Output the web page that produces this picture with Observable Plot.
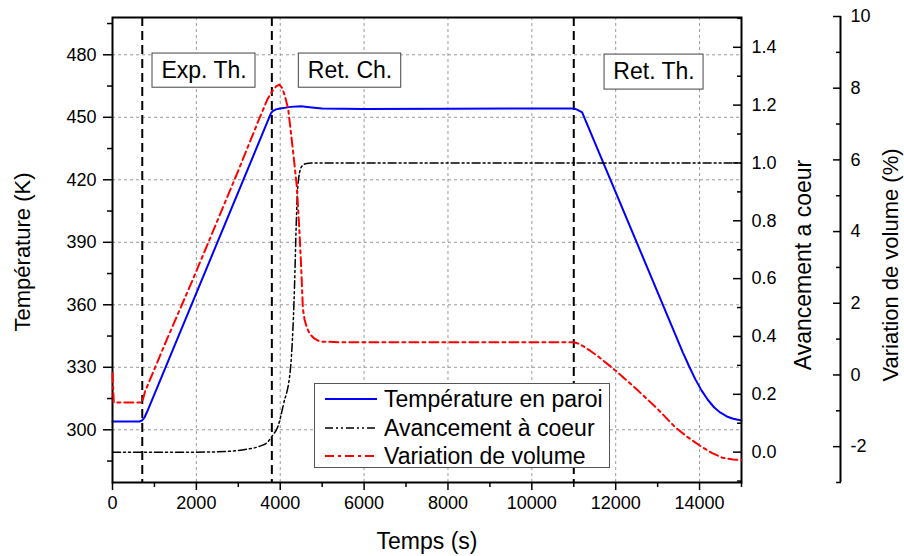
<!DOCTYPE html>
<html><head><meta charset="utf-8">
<script src="https://cdn.jsdelivr.net/npm/d3@7"></script>
<script src="https://cdn.jsdelivr.net/npm/@observablehq/plot@0.6"></script>
<style>
body{margin:0;background:#fff;font-family:"Liberation Sans",Arial,sans-serif;}
#chart{position:relative;width:904px;height:556px;}
#chart svg{position:absolute;left:0;top:0;}
#legend{position:absolute;left:314px;top:383px;width:296px;height:85px;border:1px solid #555;background:#fff;box-sizing:border-box;font-size:23px;color:#000;}
#legend .row{position:absolute;left:0;height:28px;display:flex;align-items:center;white-space:nowrap;}
#legend svg{position:static;margin-left:10px;margin-right:7px;}
</style></head><body><div id="chart"><div id="legend"></div></div>
<script>
// ---- data ----
const tempTime = [0, 640, 700, 760, 820, 3780, 3820, 3900, 4000, 4250, 4500, 4750, 5000, 6000, 8000, 10000, 11000, 11080, 11200, 13600, 13750, 13900, 14050, 14200, 14350, 14500, 14650, 14800, 15000];
const tempValue = [304, 304, 304.4, 305.8, 308.4, 452.0, 453.0, 453.8, 454.2, 455, 455.3, 454.7, 454.2, 454.0, 454.1, 454.2, 454.2, 453.7, 452.4, 337.2, 330.5, 324.2, 318.8, 314.3, 310.7, 308.2, 306.4, 305.3, 304.5];

const avTime = [0, 2000, 2800, 3200, 3500, 3700, 3820, 3940, 4080, 4240, 4340, 4380, 4420, 4500, 4600, 4750, 5000, 15000];
const avValue = [0, 0, 0.003, 0.01, 0.02, 0.035, 0.058, 0.087, 0.167, 0.283, 0.57, 0.78, 0.92, 0.985, 0.997, 1.0, 1.0, 1.0];

const volTime = [0, 30, 690, 720, 780, 1300, 1900, 2500, 3000, 3500, 3700, 3800, 3900, 3980, 4050, 4120, 4190, 4300, 4395, 4460, 4500, 4540, 4580, 4620, 4700, 4800, 4900, 5000, 5500, 8000, 10000, 11000, 11100, 11200, 11400, 11600, 12000, 12500, 13000, 13430, 13700, 14030, 14300, 14545, 14800, 15000];
const volValue = [0.05, -0.77, -0.77, -0.7, -0.45, 1.0, 2.62, 4.3, 5.7, 7.15, 7.7, 7.9, 8.05, 8.1, 8.0, 7.75, 7.42, 6.3, 5.27, 3.96, 3.0, 1.85, 1.55, 1.38, 1.15, 1.03, 0.96, 0.93, 0.91, 0.91, 0.91, 0.91, 0.88, 0.82, 0.67, 0.5, 0.12, -0.4, -0.95, -1.47, -1.72, -1.99, -2.18, -2.31, -2.36, -2.37];

const phaseTimes = [710, 3800, 11000];
const phaseLabels = ["Exp. Th.", "Ret. Ch.", "Ret. Th."];
const phaseBoxT1 = [954, 4443, 11734];
const phaseBoxT2 = [3410, 6885, 14095];
const phaseBoxLow = [464.2, 464.2, 463.3];
const phaseBoxHigh = [480.6, 480.6, 480.1];

const xMajor = [0, 2000, 4000, 6000, 8000, 10000, 12000, 14000];
const xMinor = [1000, 3000, 5000, 7000, 9000, 11000, 13000, 15000];
const tempMajor = [300, 330, 360, 390, 420, 450, 480];
const tempMinor = [285, 315, 345, 375, 405, 435, 465, 495];
const avMajor = [0, 0.2, 0.4, 0.6, 0.8, 1.0, 1.2, 1.4];
const avMinor = [-0.1, 0.1, 0.3, 0.5, 0.7, 0.9, 1.1, 1.3, 1.5];
const volMajor = [-2, 0, 2, 4, 6, 8, 10];
const volMinor = [-3, -1, 1, 3, 5, 7, 9];

const seriesNames = ["Température en paroi", "Avancement à coeur", "Variation de volume"];
const seriesColors = ["#0000ff", "#000000", "#ff0000"];
const seriesDash = [null, "8,3,2,3,2,3", "9,4,3,4"];
const seriesWidth = [2, 1.5, 2];

const xTitle = "Temps (s)";
const yTitleLeft = "Température (K)";
const yTitleRight1 = "Avancement a coeur";
const yTitleRight2 = "Variation de volume (%)";

// ---- tables ----
const tempData = tempTime.map((t, i) => ({t, v: tempValue[i]}));
const avData = avTime.map((t, i) => ({t, v: avValue[i]}));
const volData = volTime.map((t, i) => ({t, v: volValue[i]}));
const boxes = phaseLabels.map((label, i) => ({label, t1: phaseBoxT1[i], t2: phaseBoxT2[i], y1: phaseBoxLow[i], y2: phaseBoxHigh[i]}));

const FONT = '"Liberation Sans", Arial, sans-serif';
const common = {
  width: 904, height: 556,
  marginLeft: 112, marginRight: 163, marginTop: 17, marginBottom: 74,
  style: {background: "transparent", color: "black", fontFamily: FONT, overflow: "visible"}
};
const chart = document.getElementById("chart");
const legendEl = document.getElementById("legend");
const titleOpts = {text: d => d, textAnchor: "middle", lineAnchor: "middle", fill: "black"};

// main plot: temperature
const p1 = Plot.plot({
  ...common,
  x: {domain: [0, 15000]},
  y: {domain: [274.7, 497.9]},
  marks: [
    Plot.gridX(xMajor.filter(d => d > 0), {stroke: "#9a9a9a", strokeOpacity: 1, strokeDasharray: "3,3"}),
    Plot.gridY(tempMajor, {stroke: "#9a9a9a", strokeOpacity: 1, strokeDasharray: "3,3"}),
    Plot.ruleX(phaseTimes, {stroke: "black", strokeWidth: 2, strokeDasharray: "9,5"}),
    Plot.rect(boxes, {x1: "t1", x2: "t2", y1: "y1", y2: "y2", fill: "white", stroke: "#444", strokeWidth: 1}),
    Plot.text(boxes, {x: d => (d.t1 + d.t2) / 2, y: d => (d.y1 + d.y2) / 2, text: "label", fontSize: 23, fill: "black"}),
    Plot.line(tempData, {x: "t", y: "v", stroke: seriesColors[0], strokeWidth: seriesWidth[0]}),
    Plot.frame({stroke: "black", strokeWidth: 2}),
    Plot.axisY(tempMajor, {tickSize: 9, tickPadding: 7, fontSize: 18, strokeWidth: 1.5, label: null, tickFormat: d => String(d)}),
    Plot.axisY(tempMinor, {tickSize: 5, strokeWidth: 1.5, label: null, tickFormat: () => ""}),
    Plot.axisX(xMajor, {tickSize: 8, tickPadding: 6, fontSize: 18, strokeWidth: 1.5, label: null, tickFormat: d => String(d)}),
    Plot.axisX(xMinor, {tickSize: 5, strokeWidth: 1.5, label: null, tickFormat: () => ""}),
    Plot.text([xTitle], {...titleOpts, frameAnchor: "bottom", dy: 59, fontSize: 23}),
    Plot.text([yTitleLeft], {...titleOpts, frameAnchor: "left", dx: -90, dy: 2, rotate: -90, fontSize: 22}),
    Plot.text([yTitleRight1], {...titleOpts, frameAnchor: "right", dx: 62, dy: 15, rotate: -90, fontSize: 23}),
    Plot.text([yTitleRight2], {...titleOpts, frameAnchor: "right", dx: 149, dy: 15, rotate: -90, fontSize: 22})
  ]
});
chart.insertBefore(p1, legendEl);

// overlay: avancement
const p2 = Plot.plot({
  ...common,
  x: {domain: [0, 15000], axis: null},
  y: {domain: [-0.105, 1.503]},
  marks: [
    Plot.line(avData, {x: "t", y: "v", stroke: seriesColors[1], strokeWidth: seriesWidth[1], strokeDasharray: seriesDash[1], curve: "monotone-x"}),
    Plot.axisY(avMajor, {anchor: "right", tickSize: -9, tickPadding: 19, fontSize: 18, strokeWidth: 1.5, label: null, tickFormat: d3.format(".1f")}),
    Plot.axisY(avMinor, {anchor: "right", tickSize: -5, strokeWidth: 1.5, label: null, tickFormat: () => ""})
  ]
});
chart.insertBefore(p2, legendEl);

// overlay: variation de volume
const p3 = Plot.plot({
  ...common,
  marginTop: 16,
  x: {domain: [0, 15000], axis: null},
  y: {domain: [-3, 10]},
  marks: [
    Plot.line(volData, {x: "t", y: "v", stroke: seriesColors[2], strokeWidth: seriesWidth[2], strokeDasharray: seriesDash[2]}),
    Plot.ruleX([15000], {dx: 99, stroke: "black", strokeWidth: 2}),
    Plot.axisY(volMajor, {anchor: "right", dx: 99, tickSize: -8, tickPadding: 18, fontSize: 18, strokeWidth: 1.5, label: null, tickFormat: d => String(d)}),
    Plot.axisY(volMinor, {anchor: "right", dx: 99, tickSize: -5, strokeWidth: 1.5, label: null, tickFormat: () => ""})
  ]
});
chart.insertBefore(p3, legendEl);

// legend
const rowTops = [1, 30, 58];
seriesNames.forEach((name, i) => {
  const row = document.createElement("div");
  row.className = "row";
  row.style.top = rowTops[i] + "px";
  const ns = "http://www.w3.org/2000/svg";
  const s = document.createElementNS(ns, "svg");
  s.setAttribute("width", 52); s.setAttribute("height", 10);
  const l = document.createElementNS(ns, "line");
  l.setAttribute("x1", 0); l.setAttribute("x2", 52); l.setAttribute("y1", 5); l.setAttribute("y2", 5);
  l.setAttribute("stroke", seriesColors[i]); l.setAttribute("stroke-width", seriesWidth[i]);
  if (seriesDash[i]) l.setAttribute("stroke-dasharray", seriesDash[i]);
  s.appendChild(l);
  row.appendChild(s);
  const span = document.createElement("span");
  span.textContent = name;
  row.appendChild(span);
  legendEl.appendChild(row);
});
</script>
</body></html>
